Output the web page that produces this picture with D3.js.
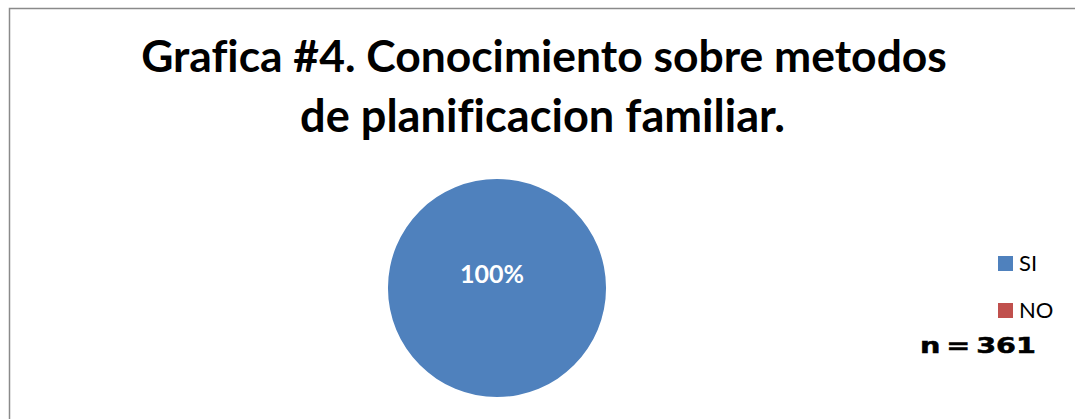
<!DOCTYPE html>
<html>
<head>
<meta charset="utf-8">
<script src="https://cdn.jsdelivr.net/npm/d3@7"></script>
<style>
  body { margin: 0; background: #fff; }
  svg { display: block; }
  text { font-variant-ligatures: none; }
</style>
</head>
<body>
<div id="chart"></div>
<script>
var categories = ["SI", "NO"];
var values = [361, 0];
var colors = ["#4F81BD", "#C0504D"];
var titleLines = ["Grafica #4. Conocimiento sobre metodos", "de planificacion familiar."];
var note = "n = 361";

var width = 1075, height = 419;

var svg = d3.select("#chart").append("svg")
  .attr("width", width)
  .attr("height", height);

// chart frame (runs off right and bottom)
svg.append("rect")
  .attr("x", 9.5).attr("y", 8.5)
  .attr("width", 1100).attr("height", 500)
  .attr("fill", "#fff")
  .attr("stroke", "#8a8a8a")
  .attr("stroke-width", 1.5);

// title, each line fitted to its width in the picture
var titleFit = [{x0: 141, x1: 947, y: 72}, {x0: 300, x1: 785, y: 132}];
titleLines.forEach(function(line, i){
  var t = svg.append("text")
    .attr("x", (titleFit[i].x0 + titleFit[i].x1) / 2)
    .attr("y", titleFit[i].y)
    .attr("text-anchor", "middle")
    .attr("font-family", "Lato, 'Open Sans', sans-serif")
    .attr("font-weight", "bold")
    .attr("font-size", 40)
    .attr("fill", "#000")
    .text(line);
  var len = t.node().getComputedTextLength();
  t.attr("font-size", 40 * (titleFit[i].x1 - titleFit[i].x0) / len);
});

// pie
var cx = 497, cy = 288, r = 109;
var total = d3.sum(values);
var pie = d3.pie().sort(null).value(function(d){ return d; });
var arc = d3.arc().innerRadius(0).outerRadius(r);
var color = d3.scaleOrdinal().domain(categories).range(colors);

var g = svg.append("g").attr("transform", "translate(" + cx + "," + cy + ")");
var arcs = pie(values);

g.selectAll("path")
  .data(arcs)
  .enter().append("path")
  .attr("d", arc)
  .attr("fill", function(d, i){ return color(categories[i]); });

// label for the non-empty slice
var labelArc = d3.arc().innerRadius(0).outerRadius(r * 0.75);
function isFull(d){ return d.endAngle - d.startAngle >= 2 * Math.PI - 1e-6; }
g.selectAll(".lbl")
  .data(arcs.filter(function(d){ return d.value > 0; }))
  .enter().append("text")
  .attr("class", "lbl")
  .attr("x", function(d){ return isFull(d) ? -5 : labelArc.centroid(d)[0]; })
  .attr("y", function(d){ return isFull(d) ? -5 : labelArc.centroid(d)[1]; })
  .attr("text-anchor", "middle")
  .attr("font-family", "Lato, 'Open Sans', sans-serif")
  .attr("font-weight", "bold")
  .attr("font-size", 25)
  .attr("fill", "#fff")
  .text(function(d){ return Math.round(d.value / total * 100) + "%"; });

// legend
var legend = svg.append("g").attr("transform", "translate(998,256)");
var item = legend.selectAll(".item")
  .data(categories)
  .enter().append("g")
  .attr("class", "item")
  .attr("transform", function(d, i){ return "translate(0," + (i * 47) + ")"; });
item.append("rect")
  .attr("width", 15).attr("height", 15)
  .attr("fill", function(d){ return color(d); });
item.append("text")
  .attr("x", 21).attr("y", 15)
  .attr("font-family", "Lato, 'Open Sans', sans-serif")
  .attr("font-size", 22)
  .attr("fill", "#000")
  .text(function(d){ return d; });

// sample size note, wide heavy lettering
var nt = svg.append("g").attr("transform", "translate(920,353)");
var noteText = nt.append("text")
  .attr("font-family", "'DejaVu Sans', sans-serif")
  .attr("font-weight", "bold")
  .attr("font-size", 21)
  .attr("word-spacing", -3)
  .attr("stroke", "#000")
  .attr("stroke-width", 0.5)
  .attr("fill", "#000")
  .text(note);
var nlen = noteText.node().getComputedTextLength();
noteText.attr("transform", "scale(" + (116 / nlen) + ",1)");
</script>
</body>
</html>
